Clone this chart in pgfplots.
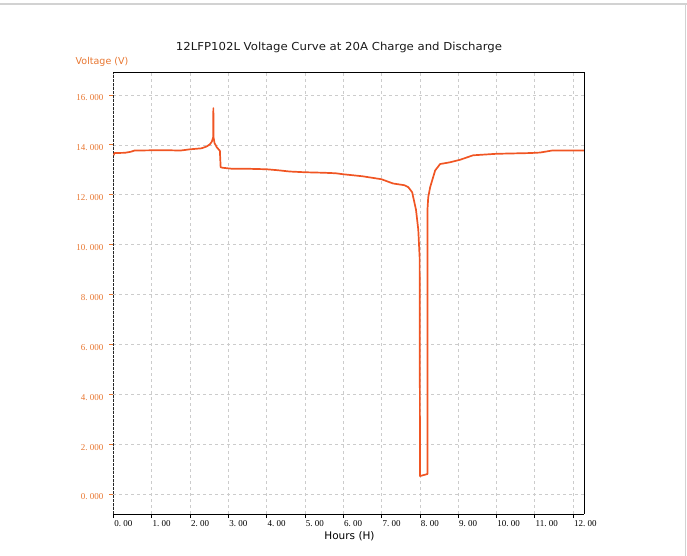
\documentclass[border=0pt]{standalone}
\usepackage{pgfplots}
\pgfplotsset{compat=1.18}
\usepackage{fontspec}
\setmainfont{DejaVu Sans}
\newfontfamily\tickfont{Liberation Serif}
\definecolor{linec}{RGB}{240,85,35}
\definecolor{labc}{RGB}{232,118,48}
\begin{document}
\begin{tikzpicture}[x=1pt,y=1pt]
\useasboundingbox (0,0) rectangle (687,556);
\draw[gray!35, line width=1.5pt] (0,552) -- (687,552);
\draw[gray!35, line width=1pt] (685.5,0) -- (685.5,552);
\node[font=\fontsize{11}{13}\selectfont, text=black!90, xscale=1.065] at (339,509) {12LFP102L Voltage Curve at 20A Charge and Discharge};
\node[font=\fontsize{9.5}{11}\selectfont, text=labc] at (102,494.3) {Voltage (V)};
\node[font=\fontsize{10.5}{12}\selectfont, text=black] at (349.5,20) {Hours (H)};
\begin{axis}[
  at={(113.4pt,42pt)}, anchor=south west,
  scale only axis, width=470.6pt, height=442pt,
  xmin=0, xmax=12.287, ymin=-0.802, ymax=16.92,
  axis x line*=bottom, axis y line*=left,
  x axis line style={-, black, line width=0.8pt},
  y axis line style={-, black!85, line width=1.1pt, dash pattern=on 2.5pt off 1.5pt},
  xtick={0,1,...,12},
  xticklabels={0.\ 00,1.\ 00,2.\ 00,3.\ 00,4.\ 00,5.\ 00,6.\ 00,7.\ 00,8.\ 00,9.\ 00,10.\ 00,11.\ 00,12.\ 00},
  ytick={0,2,...,16},
  yticklabels={0.\ 000,2.\ 000,4.\ 000,6.\ 000,8.\ 000,10.\ 000,12.\ 000,14.\ 000,16.\ 000},
  tick align=outside, major tick length=4pt,
  xtick style={black, line width=0.6pt},
  ytick style={labc, line width=0.8pt},
  xticklabel style={font=\tickfont\fontsize{9}{10}\selectfont, text=black, anchor=north west, xshift=-2.5pt, yshift=1pt},
  yticklabel style={font=\tickfont\fontsize{9}{10}\selectfont, text=labc, anchor=east, yshift=-3pt, xshift=-2.5pt},
  grid=major,
  grid style={gray!40, line width=0.6pt, dash pattern=on 3pt off 3pt},
  clip=true,
]
\addplot[linec, line width=1.7pt, line join=round] coordinates {
(0,13.58) (0.03,13.67) (0.3,13.68) (0.45,13.72) (0.55,13.77) (1.0,13.78) (1.5,13.78)
(1.75,13.77) (2.0,13.82) (2.3,13.86) (2.43,13.93) (2.52,14.02) (2.57,14.13) (2.605,14.3)
(2.61,15.47) (2.615,14.3) (2.64,14.07) (2.7,13.9) (2.78,13.76) (2.8,13.1) (2.85,13.08)
(3.1,13.04) (3.5,13.04) (4.0,13.02) (4.3,12.98) (4.6,12.93) (5.0,12.9) (5.5,12.88)
(5.8,12.86) (6.0,12.82) (6.5,12.74) (7.0,12.62) (7.3,12.45) (7.6,12.38) (7.7,12.3)
(7.8,12.1) (7.9,11.4) (7.96,10.6) (7.995,9.5) (8.005,0.72) (8.2,0.8) (8.2,11.4)
(8.22,11.9) (8.27,12.3) (8.4,12.97) (8.53,13.23) (8.79,13.3) (9.05,13.4) (9.39,13.58)
(10.0,13.64) (10.88,13.67) (11.14,13.69) (11.45,13.77) (12.29,13.77)
};
\end{axis}
\draw[black, line width=0.9pt] (113.4,484) -- (584,484) -- (584,42);
\end{tikzpicture}
\end{document}
